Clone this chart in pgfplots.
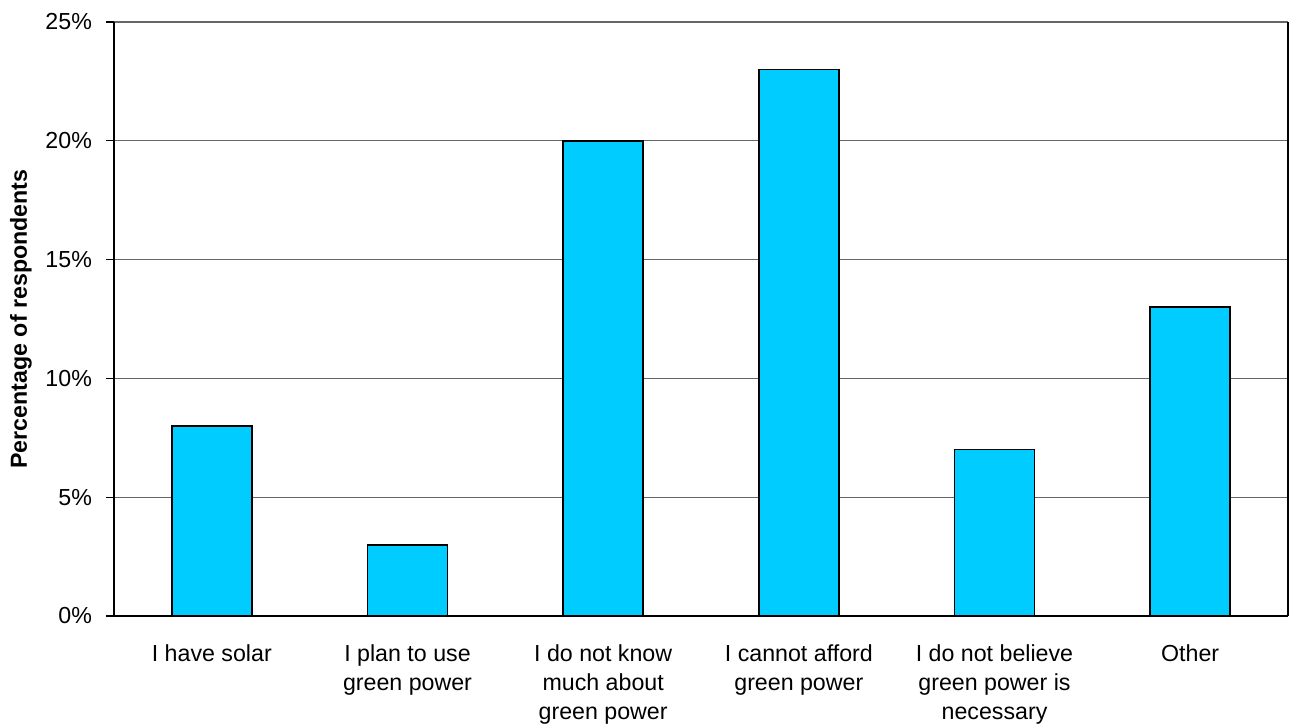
\documentclass[border=0pt]{standalone}
\usepackage{pgfplots}
\pgfplotsset{compat=1.18}
\usepackage{fontspec}
\setmainfont{Liberation Sans}
\definecolor{barcyan}{HTML}{00CCFF}
\begin{document}
\begin{tikzpicture}[font=\fontsize{11.6pt}{14.5pt}\selectfont]
\begin{axis}[
  scale only axis,
  width=587pt, height=297pt,
  xmin=0.5, xmax=6.5,
  ymin=0, ymax=25,
  axis x line*=bottom,
  axis y line*=left,
  axis line style={black, line width=1pt, -},
  ytick={0,5,10,15,20,25},
  yticklabels={0\%,5\%,10\%,15\%,20\%,25\%},
  ymajorgrids,
  grid style={gray!80!black, line width=0.6pt},
  ytick style={black, line width=0.6pt},
  tick align=outside,
  major tick length=4pt,
  yticklabel style={xshift=-3.5pt},
  xtick={1,2,3,4,5,6},
  xticklabels={I have solar, I plan to use\\green power, I do not know\\much about\\green power, I cannot afford\\green power, I do not believe\\green power is\\necessary, Other},
  xticklabel style={align=center, anchor=north, yshift=-7pt},
  x tick style={draw=none},
  extra x ticks={0.5,1.5,2.5,3.5,4.5,5.5,6.5},
  extra x tick labels={},
  extra x tick style={grid=none, tick style={draw=black, line width=0.6pt}, major tick length=4pt},
  ylabel={\bfseries Percentage of respondents},
  ylabel style={yshift=0pt},
  clip=false,
]
\addplot[ybar, bar width=40pt, fill=barcyan, draw=black, line width=0.8pt]
  coordinates {(1,8) (2,3) (3,20) (4,23) (5,7) (6,13)};
\draw[black, line width=1.2pt] (rel axis cs:1,0) -- (rel axis cs:1,1);
\coordinate (ll) at (rel axis cs:0,0);
\coordinate (ur) at (rel axis cs:1,1);
\end{axis}
\pgfresetboundingbox
\path ([xshift=-57pt,yshift=-55.5pt]ll) rectangle ([xshift=1.5pt,yshift=11pt]ur);
\end{tikzpicture}
\end{document}
